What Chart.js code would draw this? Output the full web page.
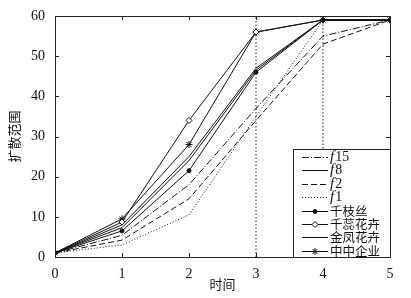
<!DOCTYPE html>
<html>
<head>
<meta charset="utf-8">
<script src="https://cdn.jsdelivr.net/npm/chart.js@4/dist/chart.umd.min.js"></script>
<style>
  html, body { margin: 0; padding: 0; background: #fff; }
  #wrap { position: relative; width: 411px; height: 298px; }
</style>
</head>
<body>
<div id="wrap"><canvas id="chart" width="411" height="298"></canvas></div>
<script>
// time steps on the x axis
const timeSteps = [0, 1, 2, 3, 4, 5];

// series
const f15 = [1, 5.4, 18, 37, 55, 59];
const f8 = [1, 7.3, 24, 46.5, 59, 59];
const f2 = [1, 4.2, 14.5, 34, 53, 59];
const f1 = [1, 3, 10.5, 35, 59, 59];
const qianZhiSi = [1, 6.5, 21.5, 46, 59, 59];
const qianRuiHuahui = [1, 8.7, 34, 56, 59, 59];
const jinFengHuahui = [1, 8, 25, 47, 59, 59];
const zhongZhongQiye = [1, 9.5, 28, 56, 59, 59];

// vertical dotted markers
const markerTimes = [3, 4];

const yTicks = [0, 10, 20, 30, 40, 50, 60];

const FONT = '"Liberation Serif", "Noto Sans CJK SC", serif';

function pts(values) {
  return values.map((v, i) => ({ x: timeSteps[i], y: v }));
}

function series(label, values, dash, pointStyle, radius, fill) {
  return {
    label,
    data: pts(values),
    borderColor: "#111",
    borderWidth: 1,
    borderDash: dash,
    pointStyle: pointStyle || "circle",
    pointRadius: radius || 0,
    pointBackgroundColor: fill ? "#111" : "#fff",
    pointBorderColor: "#111",
    pointBorderWidth: 1,
    tension: 0,
    inLegend: true,
  };
}

const datasets = [
  series("f15", f15, [7, 2, 1, 2]),
  series("f8", f8, []),
  series("f2", f2, [6, 3]),
  series("f1", f1, [1, 2]),
  series("千枝丝", qianZhiSi, [], "circle", 2, true),
  series("千蕊花卉", qianRuiHuahui, [], "rectRot", 3, false),
  series("金凤花卉", jinFengHuahui, []),
  series("中中企业", zhongZhongQiye, [], "star", 3.5, true),
];

markerTimes.forEach((t) => {
  datasets.push({
    label: "",
    data: [{ x: t, y: 0 }, { x: t, y: 60 }],
    borderColor: "#222",
    borderWidth: 1,
    borderDash: [1.5, 2],
    pointRadius: 0,
    inLegend: false,
  });
});

// box with inward ticks, like the original
const frame = {
  id: "frame",
  afterDatasetsDraw(chart) {
    const { ctx, chartArea: a, scales } = chart;
    ctx.save();
    ctx.strokeStyle = "#222";
    ctx.lineWidth = 1;
    ctx.setLineDash([]);
    ctx.strokeRect(a.left + 0.5, a.top + 0.5, a.right - a.left, a.bottom - a.top);
    ctx.beginPath();
    timeSteps.forEach((t) => {
      const x = Math.round(scales.x.getPixelForValue(t)) + 0.5;
      ctx.moveTo(x, a.bottom); ctx.lineTo(x, a.bottom - 4);
      ctx.moveTo(x, a.top); ctx.lineTo(x, a.top + 4);
    });
    yTicks.forEach((v) => {
      const y = Math.round(scales.y.getPixelForValue(v)) + 0.5;
      ctx.moveTo(a.left, y); ctx.lineTo(a.left + 4, y);
      ctx.moveTo(a.right, y); ctx.lineTo(a.right - 4, y);
    });
    ctx.stroke();
    ctx.restore();
  },
};

// legend box in the lower right corner
const legendBox = {
  id: "legendBox",
  afterDraw(chart) {
    const { ctx, chartArea: a } = chart;
    const items = chart.data.datasets.filter((d) => d.inLegend);
    const left = 293, right = a.right, top = 149, bottom = a.bottom;
    const rowH = 13.4;
    ctx.save();
    ctx.fillStyle = "#fff";
    ctx.fillRect(left, top, right - left, bottom - top);
    ctx.strokeStyle = "#222";
    ctx.lineWidth = 1;
    ctx.strokeRect(left + 0.5, top + 0.5, right - left, bottom - top);
    items.forEach((d, i) => {
      const y = Math.round(top + 8 + i * rowH) + 0.5;
      ctx.strokeStyle = "#111";
      ctx.setLineDash(d.borderDash);
      ctx.beginPath();
      ctx.moveTo(302, y);
      ctx.lineTo(328, y);
      ctx.stroke();
      ctx.setLineDash([]);
      if (d.pointRadius > 0) {
        ctx.fillStyle = d.pointBackgroundColor;
        ctx.strokeStyle = d.pointBorderColor;
        Chart.helpers.drawPoint(ctx, { pointStyle: d.pointStyle, radius: d.pointRadius, borderWidth: 1, rotation: 0 }, 315, y);
      }
      ctx.fillStyle = "#111";
      ctx.textBaseline = "middle";
      ctx.textAlign = "left";
      const m = /^f(\d+)$/.exec(d.label);
      if (m) {
        ctx.font = "italic 15px " + FONT;
        ctx.fillText("f", 330, y);
        const w = ctx.measureText("f").width;
        ctx.font = "14px " + FONT;
        ctx.fillText(m[1], 331 + w, y);
      } else {
        ctx.font = "12.5px " + FONT;
        ctx.fillText(d.label, 330, y + 1);
      }
    });
    ctx.restore();
  },
};

new Chart(document.getElementById("chart").getContext("2d"), {
  type: "line",
  data: { datasets },
  options: {
    responsive: false,
    animation: false,
    events: [],
    layout: { padding: { top: 16, right: 21, left: 8, bottom: 0 } },
    plugins: { legend: { display: false }, tooltip: { enabled: false } },
    scales: {
      x: {
        type: "linear",
        min: 0,
        max: 5,
        afterFit: (s) => { s.height = 41; },
        afterBuildTicks: (s) => { s.ticks = timeSteps.map((v) => ({ value: v })); },
        ticks: { color: "#111", font: { family: FONT, size: 14 }, padding: 1 },
        grid: { display: false },
        border: { display: false },
        title: { display: true, text: "时间", color: "#111", font: { family: FONT, size: 13 }, padding: { top: 0, bottom: 5 } },
      },
      y: {
        min: 0,
        max: 60,
        afterFit: (s) => { s.width = 47; },
        afterBuildTicks: (s) => { s.ticks = yTicks.map((v) => ({ value: v })); },
        ticks: { color: "#111", font: { family: FONT, size: 14 }, padding: 2 },
        grid: { display: false },
        border: { display: false },
        title: { display: true, text: "扩散范围", color: "#111", font: { family: FONT, size: 13 }, padding: { top: 0, bottom: 0 } },
      },
    },
  },
  plugins: [frame, legendBox],
});
</script>
</body>
</html>
